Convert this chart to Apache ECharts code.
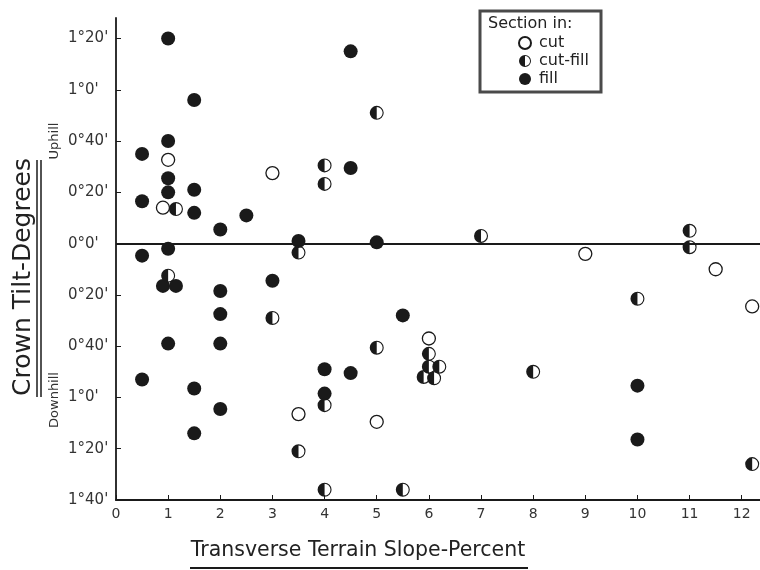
<!DOCTYPE html>
<html>
<head>
<meta charset="utf-8">
<script src="https://cdn.jsdelivr.net/npm/echarts@6/dist/echarts.min.js"></script>
<style>
  html, body { margin: 0; padding: 0; background: #fff; }
  #chart { width: 760px; height: 570px; }
</style>
</head>
<body>
<div id="chart"></div>
<script>
// transverse slope (%) vs crown tilt (minutes, + uphill / - downhill)
const cutPoints = [
  [1, 32.7], [0.9, 14], [3, 27.5], [3.5, -66.5], [5, -69.5],
  [6, -37], [9, -4], [11.5, -10], [12.2, -24.5]
];
const cutFillPoints = [
  [1.15, 13.5], [5, 51], [4, 30.5], [4, 23.3], [3.5, -3.5], [7, 3],
  [11, 5], [11, -1.4], [10, -21.5], [8, -50], [12.2, -86], [3, -29],
  [5, -40.6], [6, -43], [6, -48], [6.2, -48], [5.9, -52], [6.1, -52.5],
  [4, -63], [3.5, -81], [4, -96], [5.5, -96], [1, -12.5]
];
const fillPoints = [
  [1, 80], [1.5, 56], [1, 40], [0.5, 35], [1, 25.5], [1, 20], [1.5, 21],
  [0.5, 16.5], [1.5, 12], [2.5, 11], [2, 5.5], [1, -2], [0.5, -4.7],
  [2, -18.5], [2, -27.5], [1, -39], [2, -39], [0.5, -53], [1.5, -56.5],
  [2, -64.5], [1.5, -74], [4.5, 75], [4.5, 29.5], [3.5, 1], [5, 0.5],
  [3, -14.5], [5.5, -28], [4, -49], [4.5, -50.5], [4, -58.5],
  [10, -55.4], [10, -76.4], [0.9, -16.5], [1.15, -16.5]
];
const yTicks = [-100, -80, -60, -40, -20, 0, 20, 40, 60, 80];
const yTickLabels = ["1°40'", "1°20'", "1°0'", "0°40'", "0°20'", "0°0'", "0°20'", "0°40'", "1°0'", "1°20'"];

// ring + left half disc = half-filled circle
const halfSymbol = 'path://M0,-10A10,10 0 0,1 10,0A10,10 0 0,1 0,10A10,10 0 0,1 -10,0A10,10 0 0,1 0,-10Z' +
  'M0,-8.4A8.4,8.4 0 0,0 -8.4,0A8.4,8.4 0 0,0 0,8.4A8.4,8.4 0 0,0 8.4,0A8.4,8.4 0 0,0 0,-8.4Z' +
  'M0,8.4A8.4,8.4 0 0,1 -8.4,0A8.4,8.4 0 0,1 0,-8.4Z';

const font = 'DejaVu Sans';
const ink = '#1a1a1a';
const chart = echarts.init(document.getElementById('chart'));
chart.setOption({
  animation: false,
  backgroundColor: '#fff',
  textStyle: { fontFamily: font },
  grid: { left: 116, right: 0, top: 18, bottom: 70 },
  legend: {
    orient: 'vertical',
    left: 518,
    top: 35,
    padding: 0,
    itemGap: 2,
    itemWidth: 12,
    itemHeight: 12,
    textStyle: { fontSize: 16, color: '#222', fontFamily: font, padding: [0, 0, 0, 3] },
    data: ['cut', 'cut-fill', 'fill']
  },
  xAxis: {
    type: 'value',
    min: 0,
    max: 12.35,
    interval: 1,
    axisLine: { onZero: false, lineStyle: { color: ink, width: 1.8 } },
    axisTick: { inside: true, length: 5, lineStyle: { color: ink } },
    axisLabel: { color: '#333', fontSize: 14, margin: 7, showMaxLabel: false },
    splitLine: { show: false }
  },
  yAxis: {
    type: 'value',
    min: -100,
    max: 88,
    interval: 20,
    axisLine: { show: true, lineStyle: { color: ink, width: 1.8 } },
    axisTick: { inside: true, length: 5, lineStyle: { color: ink } },
    axisLabel: {
      color: '#333',
      fontSize: 15,
      margin: 48,
      align: 'left',
      showMaxLabel: false,
      formatter: v => {
        const i = yTicks.indexOf(v);
        return i >= 0 ? yTickLabels[i] : '';
      }
    },
    splitLine: { show: false }
  },
  graphic: [
    { type: 'rect', shape: { x: 480, y: 11, width: 121, height: 81 },
      style: { fill: 'none', stroke: '#4a4a4a', lineWidth: 3 } },
    { type: 'text', x: 488, y: 16,
      style: { text: 'Section in:', fontSize: 16, fill: '#222', fontFamily: font } },
    { type: 'text', x: 23, y: 277, rotation: Math.PI / 2,
      style: { text: 'Crown Tilt-Degrees', fontSize: 25, fill: '#222', fontFamily: font,
        align: 'center', verticalAlign: 'middle' } },
    { type: 'line', shape: { x1: 37, y1: 160, x2: 37, y2: 397 }, style: { stroke: ink, lineWidth: 1.5 } },
    { type: 'line', shape: { x1: 41, y1: 160, x2: 41, y2: 397 }, style: { stroke: ink, lineWidth: 1.5 } },
    { type: 'text', x: 55, y: 141, rotation: Math.PI / 2,
      style: { text: 'Uphill', fontSize: 13, fill: '#333', fontFamily: font,
        align: 'center', verticalAlign: 'middle' } },
    { type: 'text', x: 55, y: 400, rotation: Math.PI / 2,
      style: { text: 'Downhill', fontSize: 13, fill: '#333', fontFamily: font,
        align: 'center', verticalAlign: 'middle' } },
    { type: 'text', x: 358, y: 551,
      style: { text: 'Transverse Terrain Slope-Percent', fontSize: 20.5, fill: '#222', fontFamily: font,
        align: 'center', verticalAlign: 'middle' } },
    { type: 'line', shape: { x1: 190, y1: 568, x2: 528, y2: 568 }, style: { stroke: ink, lineWidth: 2 } }
  ],
  series: [
    {
      name: 'fill',
      type: 'scatter',
      symbol: 'circle',
      symbolSize: 14,
      itemStyle: { color: ink, opacity: 1 },
      data: fillPoints,
      markLine: {
        silent: true,
        symbol: ['none', 'none'],
        label: { show: false },
        lineStyle: { color: ink, width: 2, type: 'solid' },
        data: [{ yAxis: 0 }]
      },
      z: 3
    },
    {
      name: 'cut',
      type: 'scatter',
      symbol: 'circle',
      symbolSize: 13,
      itemStyle: { color: '#fff', borderColor: ink, borderWidth: 1.3, opacity: 1 },
      data: cutPoints,
      z: 4
    },
    {
      name: 'cut-fill',
      type: 'scatter',
      symbol: halfSymbol,
      symbolSize: 14,
      itemStyle: { color: ink, opacity: 1 },
      data: cutFillPoints,
      z: 5
    }
  ]
});
</script>
</body>
</html>
